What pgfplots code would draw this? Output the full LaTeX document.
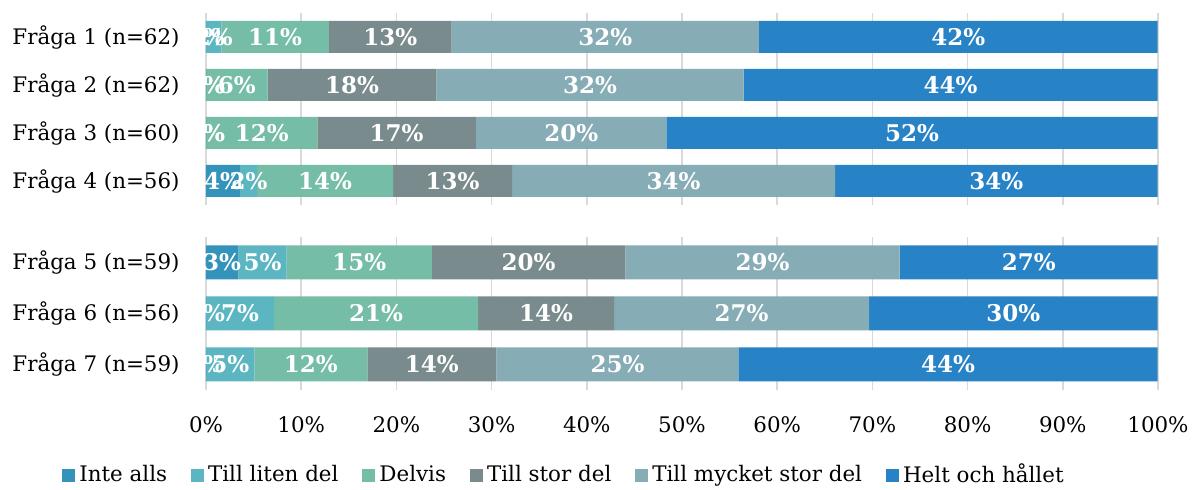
\documentclass[border=0pt]{standalone}
\usepackage{fontspec}
\setmainfont{DejaVu Serif}
\usepackage{pgfplots}
\pgfplotsset{compat=1.18}
\usepackage{pgfplotstable}
\definecolor{cA}{HTML}{3393BB}
\definecolor{cB}{HTML}{5BB6C2}
\definecolor{cC}{HTML}{75BDA6}
\definecolor{cD}{HTML}{7A8B8D}
\definecolor{cE}{HTML}{86ACB5}
\definecolor{cF}{HTML}{2882C6}
\definecolor{gridc}{HTML}{D9D9D9}

% y: 3 = top row
\pgfplotstableread{
y a la b lb c lc d ld e le f lf
3 0.01 0 1.61 2 11.29 11 12.90 13 32.26 32 41.90 42
2 0.01 0 0.01 0 6.45 6 17.74 18 32.26 32 43.50 44
1 0.01 0 0.01 0 11.67 12 16.67 17 20.00 20 51.60 52
0 3.57 4 1.79 2 14.29 14 12.50 13 33.93 34 33.88 34
}\tA
\pgfplotstableread{
y a la b lb c lc d ld e le f lf
2 3.39 3 5.08 5 15.25 15 20.34 20 28.81 29 27.10 27
1 0.01 0 7.14 7 21.43 21 14.29 14 26.79 27 30.30 30
0 0.01 0 5.08 5 11.86 12 13.56 14 25.42 25 44.03 44
}\tB

\pgfplotsset{
  mystyle/.style={
    xbar stacked,
    scale only axis,
    width=476pt,
    xmin=0, xmax=100,
    enlargelimits=false,
    clip=false,
    xtick={0,10,...,100},
    xmajorgrids,
    grid style={color=gridc, line width=0.8pt},
    major tick length=0pt,
    axis x line*=bottom,
    axis y line*=left,
    x axis line style={draw=none},
    y axis line style={draw=gridc, line width=1pt},
    point meta=explicit,
    /pgf/number format/assume math mode=true,
    nodes near coords={\pgfmathprintnumber{\pgfplotspointmeta}\%},
    every node near coord/.append style={font=\bfseries\fontsize{11.5}{13}\selectfont, text=white},
    tick label style={font=\fontsize{10.7}{12}\selectfont, text=black},
    yticklabel style={anchor=east, inner sep=0pt, xshift=-13pt},
    xticklabel style={anchor=center, inner sep=0pt, yshift=-17.5pt},
  }
}

\begin{document}
\begin{tikzpicture}
\useasboundingbox (-103pt,6.5pt) rectangle (494pt,-238.5pt);
\begin{axis}[mystyle,
  at={(0pt,0pt)}, anchor=north west,
  height=96pt, bar width=16pt,
  ymin=-0.5, ymax=3.5,
  ytick={0,1,2,3},
  yticklabels={{Fråga 4 (n=56)},{Fråga 3 (n=60)},{Fråga 2 (n=62)},{Fråga 1 (n=62)}},
  xticklabels={},
]
\addplot[fill=cA, draw=none] table[x=a, y=y, meta=la] {\tA};
\addplot[fill=cB, draw=none] table[x=b, y=y, meta=lb] {\tA};
\addplot[fill=cC, draw=none] table[x=c, y=y, meta=lc] {\tA};
\addplot[fill=cD, draw=none] table[x=d, y=y, meta=ld] {\tA};
\addplot[fill=cE, draw=none] table[x=e, y=y, meta=le] {\tA};
\addplot[fill=cF, draw=none] table[x=f, y=y, meta=lf] {\tA};
\end{axis}
\begin{axis}[mystyle,
  at={(0pt,-112pt)}, anchor=north west,
  height=76.5pt, bar width=17pt,
  ymin=-0.5, ymax=2.5,
  ytick={0,1,2},
  yticklabels={{Fråga 7 (n=59)},{Fråga 6 (n=56)},{Fråga 5 (n=59)}},
  xticklabels={0\%,10\%,20\%,30\%,40\%,50\%,60\%,70\%,80\%,90\%,100\%},
  legend columns=6,
  legend style={at={(axis description cs:0.3771,-0.5556)}, anchor=center, draw=none,
    font=\fontsize{10.7}{12}\selectfont,
    /tikz/every even column/.append style={column sep=10pt},
    inner sep=0pt},
  legend image code/.code={\fill[#1] (0pt,-3.25pt) rectangle (6.5pt,3.25pt);},
]
\addplot[fill=cA, draw=none] table[x=a, y=y, meta=la] {\tB};
\addplot[fill=cB, draw=none] table[x=b, y=y, meta=lb] {\tB};
\addplot[fill=cC, draw=none] table[x=c, y=y, meta=lc] {\tB};
\addplot[fill=cD, draw=none] table[x=d, y=y, meta=ld] {\tB};
\addplot[fill=cE, draw=none] table[x=e, y=y, meta=le] {\tB};
\addplot[fill=cF, draw=none] table[x=f, y=y, meta=lf] {\tB};
\legend{Inte alls, Till liten del, Delvis, Till stor del, Till mycket stor del, Helt och hållet}
\end{axis}
\end{tikzpicture}
\end{document}
